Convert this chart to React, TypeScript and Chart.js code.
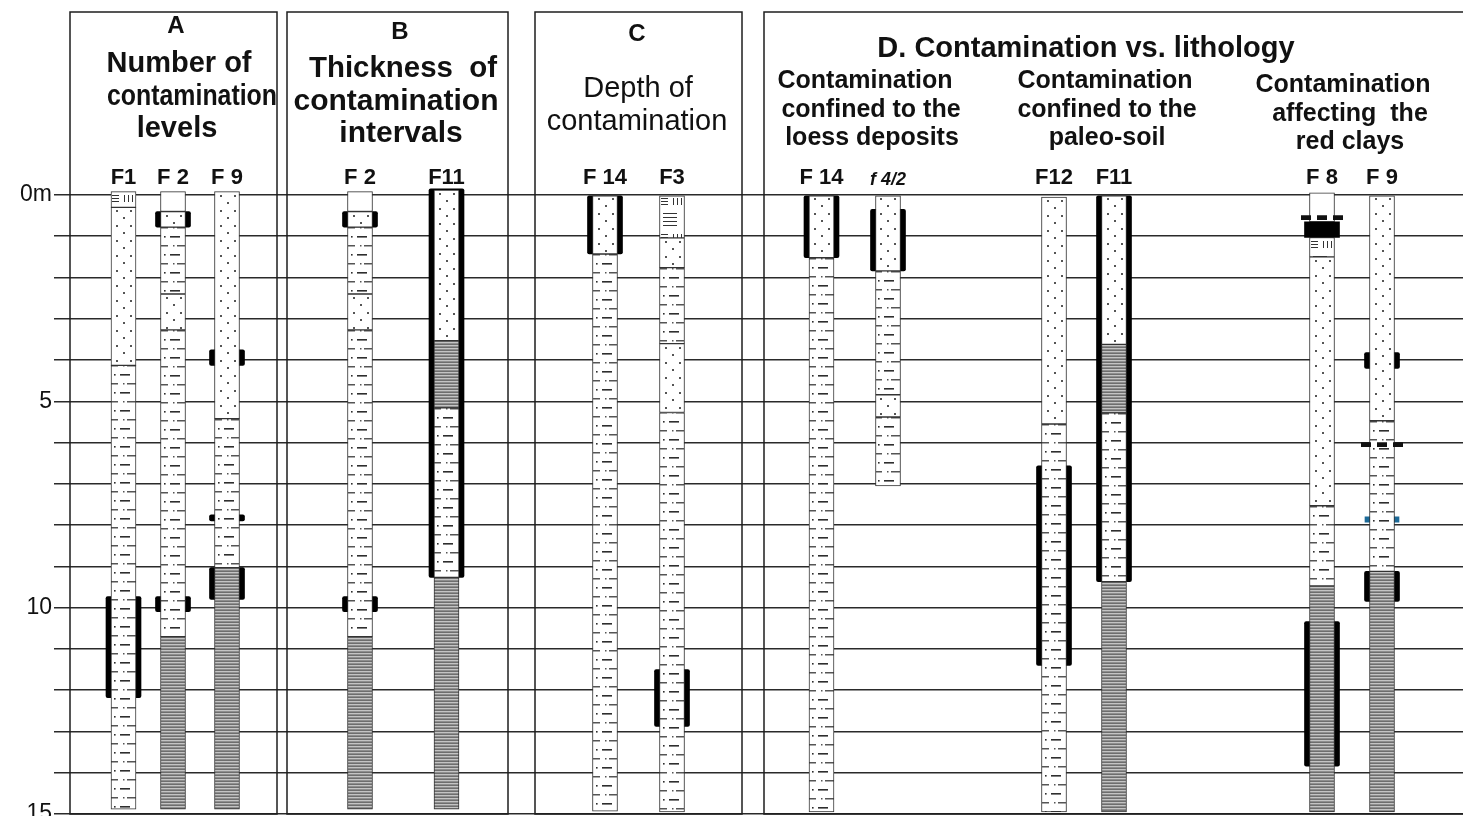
import React, { useEffect, useRef } from 'react';
import { Chart, registerables } from 'chart.js';

Chart.register(...registerables);

// ================= DATA =================
// Borehole labels (one column each, left to right)
const BOREHOLE_NAMES = ['F1', 'F 2', 'F 9', 'F 2', 'F11', 'F 14', 'F3', 'F 14', 'f 4/2', 'F12', 'F11', 'F 8', 'F 9'];

// Depth axis (m)
const DEPTH_MIN = 0;
const DEPTH_MAX = 15;
const DEPTH_LABEL_STEP = 5;

// Lithology intervals: [borehole index, top depth (m), bottom depth (m)]
const SOIL: [number, number, number][] = [[0, -0.08, 0.3], [6, 0, 1.04], [11, 1.03, 1.5]];
const BLANK: [number, number, number][] = [[1, -0.08, 0.4], [3, -0.08, 0.4], [11, -0.05, 0.65]];
const LOESS: [number, number, number][] = [
  [0, 0.3, 4.13], [1, 0.4, 0.78], [1, 2.4, 3.27], [2, -0.08, 5.42], [3, 0.4, 0.78], [3, 2.4, 3.27],
  [4, -0.12, 3.53], [5, 0, 1.43], [6, 1.04, 1.76], [6, 3.6, 5.27], [7, 0, 1.52], [8, 0, 1.84],
  [8, 4.84, 5.38], [9, 0.05, 5.55], [10, 0, 3.62], [11, 1.5, 7.53], [12, 0, 5.47],
];
const LOAM: [number, number, number][] = [
  [0, 4.13, 14.88], [1, 0.78, 2.4], [1, 3.27, 10.7], [2, 5.42, 9.03], [3, 0.78, 2.4], [3, 3.27, 10.7],
  [4, 5.16, 9.27], [5, 1.43, 14.93], [6, 1.76, 3.6], [6, 5.27, 14.95], [7, 1.52, 14.95], [8, 1.84, 4.84],
  [8, 5.38, 7.05], [9, 5.55, 14.95], [10, 5.28, 9.37], [11, 7.53, 9.47], [12, 5.47, 9.12],
];
const PALEOSOL: [number, number, number][] = [[4, 3.53, 5.16], [10, 3.62, 5.28]];
const RED_CLAY: [number, number, number][] = [
  [1, 10.7, 14.88], [2, 9.03, 14.88], [3, 10.7, 14.88], [4, 9.27, 14.88],
  [10, 9.37, 14.95], [11, 9.47, 14.95], [12, 9.12, 14.95],
];

// Contamination intervals: [borehole index, top, bottom]
const CONTAMINATION: [number, number, number][] = [
  [0, 9.73, 12.18], [1, 0.4, 0.78], [1, 9.73, 10.1], [2, 3.75, 4.13], [2, 7.75, 7.9], [2, 9.03, 9.8],
  [3, 0.4, 0.78], [3, 9.73, 10.1], [4, -0.15, 9.27], [5, 0, 1.43], [6, 11.5, 12.88], [7, 0, 1.52],
  [8, 0.35, 1.84], [9, 6.56, 11.4], [10, 0, 9.37], [11, 10.34, 13.84], [12, 3.82, 4.2], [12, 9.12, 9.85],
];
const CONTAM_MASSIVE: [number, number, number][] = [[11, 0.65, 1.03]];
const CONTAM_TRACE: [number, number, number][] = [[11, 0.5, 0.6], [12, 6.0, 6.1]];
const CONTAM_MINOR: [number, number, number][] = [[12, 7.8, 7.93]];

// Panel headings (text)
const PANEL_TITLES = [
  { x: 176, y: 26, text: 'A', size: 24, bold: true },
  { x: 179, y: 64, text: 'Number of', size: 29, bold: true },
  { x: 192, y: 97, text: 'contamination', size: 30, bold: true, maxW: 170 },
  { x: 177, y: 129, text: 'levels', size: 29, bold: true },
  { x: 400, y: 32, text: 'B', size: 24, bold: true },
  { x: 403, y: 69, text: 'Thickness  of', size: 30, bold: true, maxW: 188 },
  { x: 396, y: 102, text: 'contamination', size: 30, bold: true, maxW: 212 },
  { x: 401, y: 134, text: 'intervals', size: 30, bold: true },
  { x: 637, y: 34, text: 'C', size: 24, bold: true },
  { x: 638, y: 89, text: 'Depth of', size: 29, bold: false },
  { x: 637, y: 122, text: 'contamination', size: 29, bold: false, maxW: 182 },
  { x: 1086, y: 49, text: 'D. Contamination vs. lithology', size: 29, bold: true },
  { x: 865, y: 81, text: 'Contamination', size: 25, bold: true },
  { x: 871, y: 110, text: 'confined to the', size: 25, bold: true },
  { x: 872, y: 138, text: 'loess deposits', size: 25, bold: true },
  { x: 1105, y: 81, text: 'Contamination', size: 25, bold: true },
  { x: 1107, y: 110, text: 'confined to the', size: 25, bold: true },
  { x: 1107, y: 138, text: 'paleo-soil', size: 25, bold: true },
  { x: 1343, y: 85, text: 'Contamination', size: 25, bold: true },
  { x: 1350, y: 114, text: 'affecting  the', size: 25, bold: true },
  { x: 1350, y: 142, text: 'red clays', size: 25, bold: true },
];

// ================= LAYOUT =================
const LAYOUT = {
  width: 1463,
  height: 816,
  plotLeft: 54,
  plotTop: 195,
  bottomPad: 2,
  columnX: [123.5, 173, 227, 360, 446.5, 605, 672, 821.5, 888, 1054, 1114, 1322, 1382],
  columnW: 25,
  contamW: 35,
  massiveW: 35,
  traceW: 43,
  minorW: 34,
  panels: [[70, 277], [287, 508], [535, 742], [764, 1480]],
  panelTop: 12,
};
const FONT = "'Liberation Sans', Arial, sans-serif";

// ================= PATTERNS =================
const tileCache: Record<string, HTMLCanvasElement> = {};
function getTile(kind: string): HTMLCanvasElement {
  if (tileCache[kind]) return tileCache[kind];
  const c = document.createElement('canvas');
  let g: CanvasRenderingContext2D;
  const setup = (w: number, h: number, bg: string) => {
    c.width = w; c.height = h;
    g = c.getContext('2d')!;
    g.fillStyle = bg; g.fillRect(0, 0, w, h);
  };
  if (kind === 'loess') {
    setup(25, 15, '#ffffff');
    g!.fillStyle = '#555555';
    g!.fillRect(5, 3, 2, 2);
    g!.fillRect(19, 3, 2, 2);
    g!.fillRect(12, 10, 2, 2);
  } else if (kind === 'loam') {
    setup(25, 18, '#ffffff');
    g!.fillStyle = '#555555';
    g!.fillRect(0, 0, 7, 1.5);
    g!.fillRect(12, 0, 1.5, 1.5);
    g!.fillRect(16, 0, 9, 1.5);
    g!.fillStyle = '#2e2e2e';
    g!.fillRect(3, 9, 1.6, 1.6);
    g!.fillRect(9, 9, 10, 1.6);
  } else if (kind === 'clay') {
    setup(4, 3, '#9a9a9a');
    g!.fillStyle = '#6e6e6e'; g!.fillRect(0, 0, 4, 1);
    g!.fillStyle = '#c4c4c4'; g!.fillRect(0, 1, 4, 1);
    g!.fillStyle = '#8e8e8e'; g!.fillRect(0, 2, 4, 1);
  } else if (kind === 'soil') {
    setup(25, 36, '#ffffff');
    g!.fillStyle = '#333333';
    g!.fillRect(1, 3, 7, 1); g!.fillRect(1, 6, 7, 1); g!.fillRect(1, 9, 7, 1);
    g!.fillRect(13, 3, 1, 7); g!.fillRect(17, 3, 1, 7); g!.fillRect(21, 3, 1, 7);
    g!.fillRect(3, 18, 14, 1); g!.fillRect(3, 22, 14, 1); g!.fillRect(3, 26, 14, 1); g!.fillRect(3, 30, 14, 1);
  } else if (kind === 'trace') {
    setup(16, 4, 'rgba(0,0,0,0)');
    g!.clearRect(0, 0, 16, 4);
    g!.fillStyle = '#111111';
    g!.fillRect(0, 0, 10, 4);
  } else {
    setup(4, 4, '#ffffff');
  }
  tileCache[kind] = c;
  return c;
}

function patternFill(c: any, kind: string, width: number) {
  const raw = c.raw;
  const chart = c.chart;
  if (!raw || !chart.scales || !chart.scales.x || !chart.scales.y) return '#ffffff';
  const left = chart.scales.x.getPixelForValue(raw.x) - width / 2;
  const top = chart.scales.y.getPixelForValue(raw.y[0]);
  const p = chart.ctx.createPattern(getTile(kind), 'repeat');
  if (!p) return '#ffffff';
  p.setTransform(new DOMMatrix([1, 0, 0, 1, Math.round(left), Math.round(top)]));
  return p;
}

const toPoints = (rows: [number, number, number][]) =>
  rows.map(([i, a, b]) => ({ x: LAYOUT.columnX[i], y: [a, b] }));

function lithoDataset(label: string, rows: [number, number, number][], kind: string) {
  return {
    label,
    data: toPoints(rows),
    backgroundColor: (c: any) => patternFill(c, kind, LAYOUT.columnW),
    borderColor: '#333333',
    borderWidth: 1,
    borderSkipped: false,
    barThickness: LAYOUT.columnW,
    grouped: false,
    clip: false,
    order: 2,
  };
}

// ================= PLUGIN: panels & headings =================
const panelsPlugin = {
  id: 'panels',
  beforeDatasetsDraw(chart: any) {
    const { ctx, chartArea, scales } = chart;
    ctx.save();
    ctx.strokeStyle = '#1e1e1e';
    ctx.lineWidth = 1.5;
    for (const [l, r] of LAYOUT.panels) {
      const xl = scales.x.getPixelForValue(l);
      const xr = scales.x.getPixelForValue(r);
      ctx.strokeRect(xl, LAYOUT.panelTop, xr - xl, chartArea.bottom - LAYOUT.panelTop);
    }
    ctx.restore();
  },
  afterDraw(chart: any) {
    const { ctx, scales } = chart;
    ctx.save();
    ctx.fillStyle = '#111111';
    ctx.textAlign = 'center';
    ctx.textBaseline = 'middle';
    for (const t of PANEL_TITLES as any[]) {
      ctx.font = `${t.bold ? 'bold ' : ''}${t.size}px ${FONT}`;
      const x = scales.x.getPixelForValue(t.x);
      if (t.maxW) ctx.fillText(t.text, x, t.y, t.maxW);
      else ctx.fillText(t.text, x, t.y);
    }
    ctx.restore();
  },
};

export default function App() {
  const ref = useRef<HTMLCanvasElement>(null);
  useEffect(() => {
    document.body.style.margin = '0';
    const canvas = ref.current!;
    const datasets: any[] = [
      lithoDataset('Soil', SOIL, 'soil'),
      lithoDataset('Not described', BLANK, 'blank'),
      lithoDataset('Loess', LOESS, 'loess'),
      lithoDataset('Loess loam', LOAM, 'loam'),
      lithoDataset('Paleo-soil', PALEOSOL, 'clay'),
      lithoDataset('Red clays', RED_CLAY, 'clay'),
      {
        label: 'Contamination',
        data: toPoints(CONTAMINATION),
        backgroundColor: '#000000',
        borderWidth: 0,
        borderRadius: 2,
        borderSkipped: false,
        barThickness: LAYOUT.contamW,
        grouped: false,
        clip: false,
        order: 5,
      },
      {
        label: 'Minor contamination',
        data: toPoints(CONTAM_MINOR),
        backgroundColor: '#1c6a98',
        borderWidth: 0,
        barThickness: LAYOUT.minorW,
        grouped: false,
        order: 5,
      },
      {
        label: 'Massive contamination',
        data: toPoints(CONTAM_MASSIVE),
        backgroundColor: '#000000',
        borderWidth: 0,
        borderSkipped: false,
        barThickness: LAYOUT.massiveW,
        grouped: false,
        order: 0,
      },
      {
        label: 'Contamination traces',
        data: toPoints(CONTAM_TRACE),
        backgroundColor: (c: any) => patternFill(c, 'trace', LAYOUT.traceW),
        borderWidth: 0,
        barThickness: LAYOUT.traceW,
        grouped: false,
        order: 0,
      },
    ];

    const chart = new Chart(canvas, {
      type: 'bar',
      data: { datasets },
      plugins: [panelsPlugin],
      options: {
        responsive: false,
        animation: false,
        devicePixelRatio: 1,
        layout: { padding: { top: 0, left: 0, right: 0, bottom: LAYOUT.bottomPad } },
        plugins: { legend: { display: false }, tooltip: { enabled: false }, title: { display: false } },
        scales: {
          x: {
            type: 'linear',
            position: 'top',
            min: LAYOUT.plotLeft,
            max: LAYOUT.width,
            offset: false,
            grid: { display: false },
            border: { display: false },
            afterFit: (s: any) => {
              s.height = LAYOUT.plotTop;
              s.paddingLeft = 0;
              s.paddingRight = 0;
            },
            afterBuildTicks: (s: any) => {
              s.ticks = LAYOUT.columnX.map((v) => ({ value: v }));
            },
            ticks: {
              autoSkip: false,
              maxRotation: 0,
              minRotation: 0,
              padding: -4,
              color: '#111111',
              callback: (_v: any, i: number) => BOREHOLE_NAMES[i],
              font: (c: any) =>
                BOREHOLE_NAMES[c.index] && BOREHOLE_NAMES[c.index].startsWith('f')
                  ? { family: FONT, size: 18, weight: 'bold', style: 'italic' }
                  : { family: FONT, size: 22, weight: 'bold' },
            } as any,
          },
          y: {
            type: 'linear',
            reverse: true,
            min: DEPTH_MIN,
            max: DEPTH_MAX,
            grid: { color: '#2a2a2a', lineWidth: 1.6, drawTicks: false },
            border: { display: false },
            afterFit: (s: any) => {
              s.width = LAYOUT.plotLeft;
              s.paddingTop = 0;
              s.paddingBottom = 0;
            },
            ticks: {
              stepSize: 1,
              autoSkip: false,
              padding: 2,
              color: '#111111',
              font: { family: FONT, size: 23 },
              callback: (v: any) => {
                const n = Number(v);
                if (n === 0) return '0m';
                return n % DEPTH_LABEL_STEP === 0 ? String(n) : '';
              },
            },
          },
        },
      } as any,
    });
    return () => chart.destroy();
  }, []);

  return (
    <div style={{ width: LAYOUT.width, height: LAYOUT.height }}>
      <canvas ref={ref} width={LAYOUT.width} height={LAYOUT.height} style={{ display: 'block' }} />
    </div>
  );
}
